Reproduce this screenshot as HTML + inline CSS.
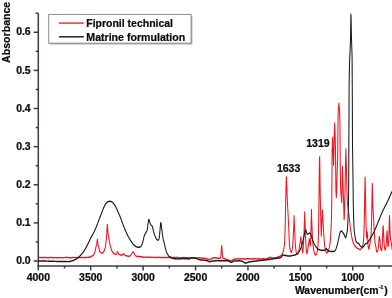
<!DOCTYPE html>
<html lang="en"><head><meta charset="utf-8"><title>FTIR spectra</title>
<style>html,body{margin:0;padding:0;background:#fff}body{width:392px;height:298px;overflow:hidden}</style>
</head><body>
<svg width="392" height="298" viewBox="0 0 392 298" style="display:block">
<rect width="392" height="298" fill="#fff"/>
<g stroke="#383c40" stroke-width="1.5" fill="none" stroke-linecap="butt">
<path d="M38.30,13.22 V266.75"/>
<path d="M37.55,266.00 H392"/>
<path d="M33.70,261.00 H38.30"/>
<path d="M35.70,241.94 H38.30"/>
<path d="M33.70,222.88 H38.30"/>
<path d="M35.70,203.82 H38.30"/>
<path d="M33.70,184.76 H38.30"/>
<path d="M35.70,165.70 H38.30"/>
<path d="M33.70,146.64 H38.30"/>
<path d="M35.70,127.58 H38.30"/>
<path d="M33.70,108.52 H38.30"/>
<path d="M35.70,89.46 H38.30"/>
<path d="M33.70,70.40 H38.30"/>
<path d="M35.70,51.34 H38.30"/>
<path d="M33.70,32.28 H38.30"/>
<path d="M35.70,13.22 H38.30"/>
<path d="M38.30,266.00 V270.40"/>
<path d="M64.51,266.00 V268.40"/>
<path d="M90.72,266.00 V270.40"/>
<path d="M116.92,266.00 V268.40"/>
<path d="M143.13,266.00 V270.40"/>
<path d="M169.34,266.00 V268.40"/>
<path d="M195.55,266.00 V270.40"/>
<path d="M221.75,266.00 V268.40"/>
<path d="M247.96,266.00 V270.40"/>
<path d="M274.17,266.00 V268.40"/>
<path d="M300.38,266.00 V270.40"/>
<path d="M326.58,266.00 V268.40"/>
<path d="M352.79,266.00 V270.40"/>
<path d="M379.00,266.00 V268.40"/>
</g>
<g transform="scale(0.72,1)" fill="none" stroke-linejoin="round">
<path d="M53.19,257.65 L53.47,257.66 L53.75,257.63 L54.03,257.63 L54.31,257.57 L54.58,257.52 L54.86,257.56 L55.14,257.57 L55.42,257.57 L55.69,257.57 L55.97,257.58 L56.25,257.64 L56.53,257.59 L56.81,257.52 L57.08,257.56 L57.36,257.57 L57.64,257.56 L57.92,257.52 L58.19,257.59 L58.47,257.65 L58.75,257.61 L59.03,257.68 L59.31,257.67 L59.58,257.67 L59.86,257.60 L60.14,257.51 L60.42,257.56 L60.69,257.47 L60.97,257.44 L61.25,257.54 L61.53,257.49 L61.81,257.59 L62.08,257.48 L62.36,257.47 L62.64,257.45 L62.92,257.47 L63.19,257.59 L63.47,257.56 L63.75,257.67 L64.03,257.69 L64.31,257.75 L64.58,257.67 L64.86,257.54 L65.14,257.49 L65.42,257.47 L65.69,257.56 L65.97,257.55 L66.25,257.56 L66.53,257.69 L66.81,257.77 L67.08,257.76 L67.36,257.68 L67.64,257.67 L67.92,257.68 L68.19,257.55 L68.47,257.56 L68.75,257.56 L69.03,257.59 L69.31,257.58 L69.58,257.52 L69.86,257.57 L70.14,257.62 L70.42,257.60 L70.69,257.53 L70.97,257.50 L71.25,257.53 L71.53,257.52 L71.81,257.42 L72.08,257.49 L72.36,257.51 L72.64,257.56 L72.92,257.65 L73.19,257.71 L73.47,257.75 L73.75,257.71 L74.03,257.74 L74.31,257.73 L74.58,257.61 L74.86,257.58 L75.14,257.62 L75.42,257.63 L75.69,257.57 L75.97,257.57 L76.25,257.61 L76.53,257.57 L76.81,257.59 L77.08,257.63 L77.36,257.69 L77.64,257.72 L77.92,257.76 L78.19,257.77 L78.47,257.72 L78.75,257.64 L79.03,257.61 L79.31,257.68 L79.58,257.68 L79.86,257.67 L80.14,257.66 L80.42,257.65 L80.69,257.67 L80.97,257.60 L81.25,257.51 L81.53,257.54 L81.81,257.54 L82.08,257.62 L82.36,257.62 L82.64,257.67 L82.92,257.70 L83.19,257.67 L83.47,257.70 L83.75,257.69 L84.03,257.71 L84.31,257.60 L84.58,257.62 L84.86,257.63 L85.14,257.61 L85.42,257.54 L85.69,257.59 L85.97,257.62 L86.25,257.58 L86.53,257.60 L86.81,257.62 L87.08,257.64 L87.36,257.61 L87.64,257.64 L87.92,257.69 L88.19,257.70 L88.47,257.70 L88.75,257.68 L89.03,257.64 L89.31,257.60 L89.58,257.60 L89.86,257.52 L90.14,257.45 L90.42,257.47 L90.69,257.44 L90.97,257.38 L91.25,257.39 L91.53,257.40 L91.81,257.49 L92.08,257.47 L92.36,257.47 L92.64,257.50 L92.92,257.47 L93.19,257.48 L93.47,257.43 L93.75,257.44 L94.03,257.43 L94.31,257.47 L94.58,257.43 L94.86,257.43 L95.14,257.49 L95.42,257.54 L95.69,257.66 L95.97,257.60 L96.25,257.69 L96.53,257.74 L96.81,257.75 L97.08,257.68 L97.36,257.63 L97.64,257.76 L97.92,257.67 L98.19,257.65 L98.47,257.65 L98.75,257.66 L99.03,257.67 L99.31,257.56 L99.58,257.59 L99.86,257.54 L100.14,257.50 L100.42,257.53 L100.69,257.54 L100.97,257.54 L101.25,257.57 L101.53,257.63 L101.81,257.65 L102.08,257.60 L102.36,257.59 L102.64,257.61 L102.92,257.63 L103.19,257.60 L103.47,257.63 L103.75,257.68 L104.03,257.59 L104.31,257.56 L104.58,257.57 L104.86,257.55 L105.14,257.55 L105.42,257.55 L105.69,257.59 L105.97,257.68 L106.25,257.62 L106.53,257.56 L106.81,257.59 L107.08,257.51 L107.36,257.56 L107.64,257.56 L107.92,257.59 L108.19,257.61 L108.47,257.57 L108.75,257.59 L109.03,257.51 L109.31,257.47 L109.58,257.49 L109.86,257.56 L110.14,257.55 L110.42,257.59 L110.69,257.63 L110.97,257.61 L111.25,257.56 L111.53,257.57 L111.81,257.52 L112.08,257.55 L112.36,257.53 L112.64,257.55 L112.92,257.55 L113.19,257.52 L113.47,257.55 L113.75,257.53 L114.03,257.61 L114.31,257.62 L114.58,257.61 L114.86,257.57 L115.14,257.54 L115.42,257.56 L115.69,257.46 L115.97,257.46 L116.25,257.49 L116.53,257.52 L116.81,257.50 L117.08,257.50 L117.36,257.53 L117.64,257.54 L117.92,257.55 L118.19,257.59 L118.47,257.59 L118.75,257.53 L119.03,257.54 L119.31,257.51 L119.58,257.39 L119.86,257.39 L120.14,257.40 L120.42,257.44 L120.69,257.38 L120.97,257.43 L121.25,257.47 L121.53,257.42 L121.81,257.36 L122.08,257.32 L122.36,257.34 L122.64,257.25 L122.92,257.26 L123.19,257.23 L123.47,257.29 L123.75,257.25 L124.03,257.19 L124.31,257.16 L124.58,257.13 L124.86,257.15 L125.14,257.06 L125.42,257.03 L125.69,257.00 L125.97,256.87 L126.25,256.74 L126.53,256.61 L126.81,256.48 L127.08,256.35 L127.36,256.23 L127.64,256.10 L127.92,255.97 L128.19,255.84 L128.47,255.71 L128.75,255.58 L129.03,255.45 L129.31,255.32 L129.58,255.19 L129.86,255.06 L130.14,254.76 L130.42,254.28 L130.69,253.80 L130.97,253.32 L131.25,252.84 L131.53,252.36 L131.81,251.88 L132.08,251.40 L132.36,250.38 L132.64,249.36 L132.92,248.34 L133.19,247.32 L133.47,246.30 L133.75,245.79 L134.03,245.05 L134.31,244.00 L134.58,242.55 L134.86,240.84 L135.14,239.50 L135.42,239.58 L135.69,241.31 L135.97,243.26 L136.25,244.71 L136.53,245.67 L136.81,246.30 L137.08,247.15 L137.36,248.00 L137.64,248.85 L137.92,249.70 L138.19,250.55 L138.47,251.40 L138.75,251.60 L139.03,251.80 L139.31,252.00 L139.58,252.20 L139.86,252.40 L140.14,252.60 L140.42,252.80 L140.69,252.90 L140.97,252.93 L141.25,252.99 L141.53,253.04 L141.81,253.08 L142.08,253.10 L142.36,253.04 L142.64,252.88 L142.92,252.65 L143.19,252.38 L143.47,252.12 L143.75,251.92 L144.03,251.81 L144.31,251.49 L144.58,250.88 L144.86,250.27 L145.14,249.65 L145.42,249.04 L145.69,248.43 L145.97,247.81 L146.25,247.20 L146.53,245.67 L146.81,244.13 L147.08,242.60 L147.36,241.07 L147.64,239.66 L147.92,237.91 L148.19,235.23 L148.47,231.33 L148.75,226.81 L149.03,224.50 L149.31,225.68 L149.58,228.35 L149.86,231.12 L150.14,233.35 L150.42,234.99 L150.69,236.16 L150.97,237.00 L151.25,238.20 L151.53,239.40 L151.81,240.60 L152.08,241.80 L152.36,243.00 L152.64,244.20 L152.92,244.96 L153.19,245.73 L153.47,246.49 L153.75,247.25 L154.03,248.01 L154.31,248.78 L154.58,249.54 L154.86,250.30 L155.14,250.60 L155.42,250.90 L155.69,251.20 L155.97,251.50 L156.25,251.80 L156.53,252.10 L156.81,252.40 L157.08,252.70 L157.36,253.00 L157.64,253.30 L157.92,253.32 L158.19,253.40 L158.47,253.51 L158.75,253.65 L159.03,253.81 L159.31,253.97 L159.58,254.13 L159.86,254.25 L160.14,254.35 L160.42,254.39 L160.69,254.39 L160.97,254.32 L161.25,254.22 L161.53,254.06 L161.81,253.83 L162.08,253.51 L162.36,253.08 L162.64,252.57 L162.92,252.07 L163.19,251.75 L163.47,251.76 L163.75,252.19 L164.03,252.80 L164.31,253.36 L164.58,253.77 L164.86,254.06 L165.14,254.24 L165.42,254.35 L165.69,254.40 L165.97,254.42 L166.25,254.48 L166.53,254.58 L166.81,254.70 L167.08,254.83 L167.36,254.96 L167.64,255.07 L167.92,255.15 L168.19,255.19 L168.47,255.19 L168.75,255.17 L169.03,255.13 L169.31,255.08 L169.58,255.00 L169.86,254.90 L170.14,254.77 L170.42,254.61 L170.69,254.41 L170.97,254.17 L171.25,253.94 L171.53,253.73 L171.81,253.62 L172.08,253.63 L172.36,253.87 L172.64,254.24 L172.92,254.62 L173.19,254.94 L173.47,255.18 L173.75,255.35 L174.03,255.47 L174.31,255.54 L174.58,255.59 L174.86,255.60 L175.14,255.62 L175.42,255.66 L175.69,255.71 L175.97,255.78 L176.25,255.85 L176.53,255.93 L176.81,256.01 L177.08,256.09 L177.36,256.16 L177.64,256.22 L177.92,256.26 L178.19,256.29 L178.47,256.30 L178.75,256.28 L179.03,256.25 L179.31,256.20 L179.58,256.15 L179.86,256.08 L180.14,255.99 L180.42,255.89 L180.69,255.77 L180.97,255.63 L181.25,255.46 L181.53,255.26 L181.81,255.04 L182.08,254.78 L182.36,254.50 L182.64,254.18 L182.92,253.84 L183.19,253.48 L183.47,253.11 L183.75,252.76 L184.03,252.46 L184.31,252.21 L184.58,252.05 L184.86,252.00 L185.14,252.06 L185.42,252.24 L185.69,252.52 L185.97,252.86 L186.25,253.25 L186.53,253.65 L186.81,254.04 L187.08,254.41 L187.36,254.74 L187.64,255.04 L187.92,255.30 L188.19,255.53 L188.47,255.73 L188.75,255.89 L189.03,256.03 L189.31,256.15 L189.58,256.25 L189.86,256.33 L190.14,256.39 L190.42,256.50 L190.69,256.51 L190.97,256.44 L191.25,256.47 L191.53,256.59 L191.81,256.50 L192.08,256.48 L192.36,256.49 L192.64,256.51 L192.92,256.54 L193.19,256.45 L193.47,256.55 L193.75,256.60 L194.03,256.64 L194.31,256.67 L194.58,256.61 L194.86,256.64 L195.14,256.58 L195.42,256.62 L195.69,256.64 L195.97,256.66 L196.25,256.71 L196.53,256.74 L196.81,256.83 L197.08,256.75 L197.36,256.85 L197.64,256.89 L197.92,256.93 L198.19,257.01 L198.47,257.10 L198.75,257.21 L199.03,257.15 L199.31,257.21 L199.58,257.26 L199.86,257.28 L200.14,257.25 L200.42,257.18 L200.69,257.16 L200.97,257.16 L201.25,257.11 L201.53,257.14 L201.81,257.14 L202.08,257.14 L202.36,257.17 L202.64,257.15 L202.92,257.19 L203.19,257.18 L203.47,257.13 L203.75,257.10 L204.03,257.13 L204.31,257.14 L204.58,257.15 L204.86,257.14 L205.14,257.19 L205.42,257.29 L205.69,257.24 L205.97,257.25 L206.25,257.22 L206.53,257.16 L206.81,257.20 L207.08,257.19 L207.36,257.15 L207.64,257.11 L207.92,257.16 L208.19,257.24 L208.47,257.20 L208.75,257.17 L209.03,257.19 L209.31,257.33 L209.58,257.34 L209.86,257.33 L210.14,257.38 L210.42,257.43 L210.69,257.50 L210.97,257.40 L211.25,257.41 L211.53,257.39 L211.81,257.41 L212.08,257.35 L212.36,257.31 L212.64,257.35 L212.92,257.37 L213.19,257.38 L213.47,257.31 L213.75,257.33 L214.03,257.34 L214.31,257.38 L214.58,257.37 L214.86,257.42 L215.14,257.46 L215.42,257.44 L215.69,257.51 L215.97,257.50 L216.25,257.49 L216.53,257.45 L216.81,257.48 L217.08,257.49 L217.36,257.47 L217.64,257.39 L217.92,257.33 L218.19,257.36 L218.47,257.33 L218.75,257.42 L219.03,257.38 L219.31,257.41 L219.58,257.41 L219.86,257.32 L220.14,257.25 L220.42,257.20 L220.69,257.17 L220.97,257.21 L221.25,257.31 L221.53,257.37 L221.81,257.49 L222.08,257.49 L222.36,257.57 L222.64,257.53 L222.92,257.51 L223.19,257.49 L223.47,257.46 L223.75,257.43 L224.03,257.39 L224.31,257.42 L224.58,257.40 L224.86,257.43 L225.14,257.44 L225.42,257.49 L225.69,257.44 L225.97,257.44 L226.25,257.46 L226.53,257.44 L226.81,257.43 L227.08,257.35 L227.36,257.46 L227.64,257.43 L227.92,257.41 L228.19,257.48 L228.47,257.47 L228.75,257.54 L229.03,257.45 L229.31,257.44 L229.58,257.39 L229.86,257.34 L230.14,257.39 L230.42,257.38 L230.69,257.45 L230.97,257.44 L231.25,257.46 L231.53,257.45 L231.81,257.44 L232.08,257.44 L232.36,257.41 L232.64,257.48 L232.92,257.51 L233.19,257.52 L233.47,257.55 L233.75,257.52 L234.03,257.53 L234.31,257.57 L234.58,257.58 L234.86,257.61 L235.14,257.54 L235.42,257.64 L235.69,257.55 L235.97,257.45 L236.25,257.41 L236.53,257.45 L236.81,257.49 L237.08,257.41 L237.36,257.45 L237.64,257.51 L237.92,257.55 L238.19,257.47 L238.47,257.41 L238.75,257.38 L239.03,257.44 L239.31,257.44 L239.58,257.44 L239.86,257.46 L240.14,257.45 L240.42,257.50 L240.69,257.46 L240.97,257.45 L241.25,257.47 L241.53,257.45 L241.81,257.48 L242.08,257.52 L242.36,257.57 L242.64,257.55 L242.92,257.43 L243.19,257.45 L243.47,257.52 L243.75,257.52 L244.03,257.49 L244.31,257.49 L244.58,257.59 L244.86,257.62 L245.14,257.56 L245.42,257.52 L245.69,257.51 L245.97,257.55 L246.25,257.51 L246.53,257.50 L246.81,257.53 L247.08,257.52 L247.36,257.58 L247.64,257.62 L247.92,257.61 L248.19,257.64 L248.47,257.68 L248.75,257.68 L249.03,257.72 L249.31,257.69 L249.58,257.80 L249.86,257.74 L250.14,257.69 L250.42,257.75 L250.69,257.78 L250.97,257.80 L251.25,257.79 L251.53,257.80 L251.81,257.78 L252.08,257.73 L252.36,257.71 L252.64,257.62 L252.92,257.58 L253.19,257.53 L253.47,257.58 L253.75,257.62 L254.03,257.53 L254.31,257.58 L254.58,257.65 L254.86,257.72 L255.14,257.68 L255.42,257.60 L255.69,257.57 L255.97,257.62 L256.25,257.55 L256.53,257.59 L256.81,257.67 L257.08,257.70 L257.36,257.76 L257.64,257.76 L257.92,257.80 L258.19,257.77 L258.47,257.68 L258.75,257.74 L259.03,257.73 L259.31,257.62 L259.58,257.60 L259.86,257.61 L260.14,257.75 L260.42,257.70 L260.69,257.69 L260.97,257.85 L261.25,257.89 L261.53,257.86 L261.81,257.75 L262.08,257.73 L262.36,257.84 L262.64,257.75 L262.92,257.73 L263.19,257.72 L263.47,257.82 L263.75,257.84 L264.03,257.81 L264.31,257.83 L264.58,257.86 L264.86,257.85 L265.14,257.82 L265.42,257.90 L265.69,257.88 L265.97,257.84 L266.25,257.78 L266.53,257.83 L266.81,257.79 L267.08,257.73 L267.36,257.74 L267.64,257.72 L267.92,257.80 L268.19,257.80 L268.47,257.81 L268.75,257.82 L269.03,257.86 L269.31,257.92 L269.58,257.86 L269.86,257.90 L270.14,257.89 L270.42,257.85 L270.69,257.76 L270.97,257.76 L271.25,257.76 L271.53,257.70 L271.81,257.73 L272.08,257.76 L272.36,257.86 L272.64,257.87 L272.92,257.90 L273.19,257.91 L273.47,257.87 L273.75,257.90 L274.03,257.86 L274.31,257.84 L274.58,257.89 L274.86,257.90 L275.14,257.91 L275.42,257.83 L275.69,257.85 L275.97,257.87 L276.25,257.85 L276.53,257.83 L276.81,257.82 L277.08,257.87 L277.36,257.86 L277.64,257.85 L277.92,257.86 L278.19,257.88 L278.47,257.94 L278.75,257.98 L279.03,257.97 L279.31,258.03 L279.58,258.08 L279.86,258.15 L280.14,258.16 L280.42,258.17 L280.69,258.17 L280.97,258.20 L281.25,258.11 L281.53,258.09 L281.81,258.11 L282.08,258.17 L282.36,258.23 L282.64,258.19 L282.92,258.24 L283.19,258.25 L283.47,258.29 L283.75,258.28 L284.03,258.30 L284.31,258.33 L284.58,258.40 L284.86,258.49 L285.14,258.47 L285.42,258.49 L285.69,258.58 L285.97,258.65 L286.25,258.66 L286.53,258.70 L286.81,258.77 L287.08,258.83 L287.36,258.88 L287.64,258.98 L287.92,258.99 L288.19,259.05 L288.47,259.21 L288.75,259.24 L289.03,259.25 L289.31,259.29 L289.58,259.39 L289.86,259.44 L290.14,259.42 L290.42,259.42 L290.69,259.48 L290.97,259.48 L291.25,259.58 L291.53,259.55 L291.81,259.48 L292.08,259.44 L292.36,259.35 L292.64,259.27 L292.92,259.17 L293.19,258.95 L293.47,258.78 L293.75,258.63 L294.03,258.54 L294.31,258.43 L294.58,258.28 L294.86,258.22 L295.14,258.16 L295.42,258.13 L295.69,258.02 L295.97,257.92 L296.25,257.92 L296.53,257.88 L296.81,257.80 L297.08,257.73 L297.36,257.71 L297.64,257.67 L297.92,257.67 L298.19,257.71 L298.47,257.83 L298.75,257.84 L299.03,257.81 L299.31,257.76 L299.58,257.80 L299.86,257.79 L300.14,257.74 L300.42,257.79 L300.69,257.88 L300.97,257.97 L301.25,257.97 L301.53,258.06 L301.81,258.08 L302.08,258.10 L302.36,258.20 L302.64,258.22 L302.92,258.26 L303.19,258.22 L303.47,258.28 L303.75,258.36 L304.03,258.28 L304.31,258.30 L304.58,258.29 L304.86,258.24 L305.14,258.24 L305.42,258.26 L305.69,258.26 L305.97,258.13 L306.25,257.71 L306.53,256.90 L306.81,255.47 L307.08,253.18 L307.36,250.14 L307.64,247.13 L307.92,245.73 L308.19,247.16 L308.47,250.30 L308.75,253.43 L309.03,255.66 L309.31,257.07 L309.58,257.91 L309.86,258.32 L310.14,258.35 L310.42,258.35 L310.69,258.41 L310.97,258.50 L311.25,258.60 L311.53,258.70 L311.81,258.73 L312.08,258.82 L312.36,258.88 L312.64,258.87 L312.92,258.90 L313.19,258.94 L313.47,259.03 L313.75,259.07 L314.03,259.14 L314.31,259.27 L314.58,259.40 L314.86,259.53 L315.14,259.61 L315.42,259.65 L315.69,259.67 L315.97,259.63 L316.25,259.65 L316.53,259.75 L316.81,259.78 L317.08,259.81 L317.36,259.93 L317.64,260.07 L317.92,260.13 L318.19,260.19 L318.47,260.31 L318.75,260.44 L319.03,260.45 L319.31,260.54 L319.58,260.65 L319.86,260.69 L320.14,260.79 L320.42,260.87 L320.69,260.98 L320.97,261.06 L321.25,260.89 L321.53,260.77 L321.81,260.65 L322.08,260.48 L322.36,260.33 L322.64,260.20 L322.92,260.08 L323.19,259.96 L323.47,259.83 L323.75,259.70 L324.03,259.62 L324.31,259.55 L324.58,259.52 L324.86,259.44 L325.14,259.31 L325.42,259.22 L325.69,259.09 L325.97,258.97 L326.25,259.01 L326.53,259.03 L326.81,259.09 L327.08,259.15 L327.36,259.11 L327.64,259.08 L327.92,258.98 L328.19,258.97 L328.47,258.97 L328.75,258.90 L329.03,258.96 L329.31,258.99 L329.58,258.99 L329.86,258.92 L330.14,258.83 L330.42,258.89 L330.69,258.85 L330.97,258.87 L331.25,258.90 L331.53,258.95 L331.81,259.03 L332.08,258.97 L332.36,258.97 L332.64,258.95 L332.92,258.91 L333.19,258.85 L333.47,258.79 L333.75,258.82 L334.03,258.81 L334.31,258.78 L334.58,258.84 L334.86,258.91 L335.14,258.84 L335.42,258.89 L335.69,258.96 L335.97,258.94 L336.25,258.86 L336.53,258.83 L336.81,258.89 L337.08,258.84 L337.36,258.84 L337.64,258.87 L337.92,258.93 L338.19,258.93 L338.47,258.98 L338.75,259.04 L339.03,259.07 L339.31,259.09 L339.58,259.08 L339.86,259.15 L340.14,259.14 L340.42,259.09 L340.69,258.99 L340.97,259.01 L341.25,258.99 L341.53,258.88 L341.81,258.81 L342.08,258.78 L342.36,258.82 L342.64,258.73 L342.92,258.73 L343.19,258.74 L343.47,258.75 L343.75,258.72 L344.03,258.69 L344.31,258.69 L344.58,258.75 L344.86,258.71 L345.14,258.79 L345.42,258.87 L345.69,258.85 L345.97,258.91 L346.25,258.87 L346.53,258.86 L346.81,258.82 L347.08,258.78 L347.36,258.85 L347.64,258.88 L347.92,258.86 L348.19,258.89 L348.47,258.92 L348.75,258.97 L349.03,258.86 L349.31,258.86 L349.58,258.90 L349.86,258.97 L350.14,258.93 L350.42,258.86 L350.69,258.95 L350.97,258.95 L351.25,258.96 L351.53,258.81 L351.81,258.85 L352.08,258.83 L352.36,258.79 L352.64,258.70 L352.92,258.63 L353.19,258.67 L353.47,258.61 L353.75,258.65 L354.03,258.68 L354.31,258.71 L354.58,258.72 L354.86,258.76 L355.14,258.83 L355.42,258.89 L355.69,258.89 L355.97,258.93 L356.25,259.01 L356.53,259.07 L356.81,259.09 L357.08,259.04 L357.36,259.02 L357.64,259.05 L357.92,259.08 L358.19,259.08 L358.47,258.93 L358.75,258.93 L359.03,258.82 L359.31,258.79 L359.58,258.74 L359.86,258.68 L360.14,258.76 L360.42,258.81 L360.69,258.92 L360.97,258.93 L361.25,258.95 L361.53,258.96 L361.81,258.98 L362.08,258.93 L362.36,258.90 L362.64,258.89 L362.92,258.89 L363.19,258.87 L363.47,258.88 L363.75,258.90 L364.03,258.90 L364.31,258.86 L364.58,258.82 L364.86,258.79 L365.14,258.77 L365.42,258.71 L365.69,258.73 L365.97,258.75 L366.25,258.77 L366.53,258.82 L366.81,258.89 L367.08,258.90 L367.36,258.92 L367.64,258.86 L367.92,258.87 L368.19,258.90 L368.47,258.86 L368.75,258.85 L369.03,258.83 L369.31,258.92 L369.58,258.87 L369.86,258.82 L370.14,258.69 L370.42,258.71 L370.69,258.71 L370.97,258.64 L371.25,258.56 L371.53,258.47 L371.81,258.47 L372.08,258.38 L372.36,258.29 L372.64,258.22 L372.92,258.20 L373.19,258.16 L373.47,257.97 L373.75,257.80 L374.03,257.65 L374.31,257.52 L374.58,257.35 L374.86,257.21 L375.14,257.18 L375.42,257.21 L375.69,257.33 L375.97,257.45 L376.25,257.61 L376.53,257.69 L376.81,257.75 L377.08,257.87 L377.36,257.93 L377.64,258.06 L377.92,257.98 L378.19,257.93 L378.47,257.89 L378.75,257.88 L379.03,257.86 L379.31,257.86 L379.58,257.90 L379.86,257.98 L380.14,258.02 L380.42,257.98 L380.69,258.03 L380.97,258.03 L381.25,258.10 L381.53,257.92 L381.81,257.93 L382.08,257.92 L382.36,257.83 L382.64,257.76 L382.92,257.67 L383.19,257.74 L383.47,257.68 L383.75,257.63 L384.03,257.70 L384.31,257.55 L384.58,257.51 L384.86,257.40 L385.14,257.30 L385.42,257.31 L385.69,257.20 L385.97,257.11 L386.25,257.02 L386.53,256.92 L386.81,256.85 L387.08,256.70 L387.36,256.61 L387.64,256.57 L387.92,256.46 L388.19,256.42 L388.47,256.38 L388.75,256.26 L389.03,256.14 L389.31,255.99 L389.58,255.90 L389.86,255.78 L390.14,255.56 L390.42,255.44 L390.69,255.23 L390.97,255.05 L391.25,254.76 L391.53,254.41 L391.81,254.17 L392.08,253.83 L392.36,253.50 L392.64,253.17 L392.92,252.61 L393.19,251.83 L393.47,251.05 L393.75,250.26 L394.03,249.48 L394.31,248.70 L394.58,247.07 L394.86,245.44 L395.14,243.81 L395.42,241.00 L395.69,236.33 L395.97,229.67 L396.25,221.50 L396.53,212.00 L396.81,200.00 L397.08,190.40 L397.36,185.32 L397.64,177.36 L397.92,176.91 L398.19,184.49 L398.47,188.00 L398.75,194.00 L399.03,200.00 L399.31,203.75 L399.58,207.50 L399.86,211.25 L400.14,215.00 L400.42,219.00 L400.69,223.00 L400.97,227.00 L401.25,231.75 L401.53,236.75 L401.81,242.56 L402.08,246.12 L402.36,247.16 L402.64,248.20 L402.92,249.24 L403.19,250.28 L403.47,250.86 L403.75,251.29 L404.03,251.91 L404.31,252.34 L404.58,252.34 L404.86,251.87 L405.14,251.17 L405.42,250.55 L405.69,250.30 L405.97,248.50 L406.25,246.70 L406.53,244.90 L406.81,242.45 L407.08,240.00 L407.36,235.56 L407.64,231.11 L407.92,227.84 L408.19,221.88 L408.47,215.70 L408.75,221.20 L409.03,227.14 L409.31,230.00 L409.58,235.71 L409.86,240.70 L410.14,243.50 L410.42,246.08 L410.69,247.98 L410.97,249.89 L411.25,251.80 L411.53,252.16 L411.81,252.96 L412.08,253.61 L412.36,253.71 L412.64,253.78 L412.92,253.90 L413.19,254.02 L413.47,254.09 L413.75,254.01 L414.03,253.39 L414.31,252.51 L414.58,251.89 L414.86,251.22 L415.14,250.07 L415.42,248.92 L415.69,247.77 L415.97,246.60 L416.25,245.40 L416.53,244.20 L416.81,243.00 L417.08,241.92 L417.36,239.85 L417.64,236.93 L417.92,236.93 L418.19,239.85 L418.47,241.92 L418.75,243.00 L419.03,245.17 L419.31,247.33 L419.58,249.50 L419.86,250.08 L420.14,251.39 L420.42,252.45 L420.69,252.16 L420.97,249.30 L421.25,246.44 L421.53,244.00 L421.81,240.00 L422.08,236.00 L422.36,230.00 L422.64,224.00 L422.92,219.50 L423.19,212.00 L423.47,219.50 L423.75,224.00 L424.03,230.00 L424.31,236.00 L424.58,240.20 L424.86,244.40 L425.14,246.78 L425.42,248.75 L425.69,251.55 L425.97,253.52 L426.25,253.71 L426.53,253.02 L426.81,251.90 L427.08,250.78 L427.36,250.09 L427.64,249.25 L427.92,247.75 L428.19,246.25 L428.47,244.75 L428.75,243.65 L429.03,242.48 L429.31,240.40 L429.58,238.80 L429.86,240.42 L430.14,242.16 L430.42,243.00 L430.69,243.68 L430.97,245.03 L431.25,245.70 L431.53,239.77 L431.81,233.67 L432.08,224.33 L432.36,216.94 L432.64,209.49 L432.92,218.79 L433.19,223.43 L433.47,229.14 L433.75,234.40 L434.03,238.64 L434.31,241.18 L434.58,243.73 L434.86,245.77 L435.14,247.30 L435.42,248.83 L435.69,250.04 L435.97,250.93 L436.25,251.82 L436.53,252.71 L436.81,253.60 L437.08,253.74 L437.36,254.12 L437.64,254.58 L437.92,254.96 L438.19,255.10 L438.47,255.01 L438.75,254.78 L439.03,254.47 L439.31,254.19 L439.58,254.02 L439.86,253.60 L440.14,252.80 L440.42,252.00 L440.69,251.20 L440.97,250.40 L441.25,249.60 L441.53,246.56 L441.81,243.52 L442.08,239.20 L442.36,232.00 L442.64,220.00 L442.92,205.00 L443.19,190.00 L443.47,170.00 L443.75,157.02 L444.03,157.02 L444.31,170.00 L444.58,186.00 L444.86,197.50 L445.14,207.14 L445.42,215.71 L445.69,223.33 L445.97,230.00 L446.25,236.20 L446.53,230.73 L446.81,225.25 L447.08,219.75 L447.36,216.12 L447.64,212.32 L447.92,209.96 L448.19,215.19 L448.47,218.10 L448.75,222.50 L449.03,226.90 L449.31,230.31 L449.58,233.38 L449.86,236.46 L450.14,239.10 L450.42,241.30 L450.69,243.50 L450.97,245.70 L451.25,246.73 L451.53,247.77 L451.81,248.80 L452.08,249.83 L452.36,250.87 L452.64,251.90 L452.92,252.06 L453.19,252.45 L453.47,252.84 L453.75,253.00 L454.03,252.94 L454.31,252.75 L454.58,252.48 L454.86,252.17 L455.14,251.87 L455.42,251.64 L455.69,251.52 L455.97,251.15 L456.25,250.45 L456.53,249.75 L456.81,249.05 L457.08,248.35 L457.36,247.65 L457.64,246.62 L457.92,245.27 L458.19,243.92 L458.47,242.57 L458.75,240.67 L459.03,238.22 L459.31,235.25 L459.58,231.75 L459.86,227.33 L460.14,222.00 L460.42,216.67 L460.69,204.80 L460.97,185.67 L461.25,149.57 L461.53,146.86 L461.81,141.66 L462.08,137.30 L462.36,144.96 L462.64,151.41 L462.92,157.05 L463.19,165.15 L463.47,164.40 L463.75,154.80 L464.03,144.00 L464.31,134.39 L464.58,129.58 L464.86,122.90 L465.14,129.58 L465.42,134.39 L465.69,141.43 L465.97,150.00 L466.25,170.00 L466.53,191.00 L466.81,194.25 L467.08,197.50 L467.36,194.25 L467.64,191.00 L467.92,182.33 L468.19,174.86 L468.47,168.57 L468.75,161.86 L469.03,155.00 L469.31,131.00 L469.58,116.00 L469.86,109.77 L470.14,108.32 L470.42,105.53 L470.69,103.20 L470.97,105.53 L471.25,108.32 L471.53,109.77 L471.81,114.50 L472.08,120.50 L472.36,145.00 L472.64,168.00 L472.92,181.33 L473.19,189.33 L473.47,191.98 L473.75,194.64 L474.03,197.29 L474.31,199.95 L474.58,202.60 L474.86,194.26 L475.14,184.00 L475.42,173.22 L475.69,166.59 L475.97,175.97 L476.25,180.89 L476.53,186.67 L476.81,192.60 L477.08,199.00 L477.36,205.40 L477.64,212.30 L477.92,219.37 L478.19,218.92 L478.47,210.97 L478.75,203.12 L479.03,195.62 L479.31,187.60 L479.58,178.00 L479.86,163.00 L480.14,155.94 L480.42,148.88 L480.69,158.36 L480.97,163.00 L481.25,171.50 L481.53,180.00 L481.81,189.60 L482.08,195.67 L482.36,200.56 L482.64,203.75 L482.92,205.25 L483.19,206.75 L483.47,208.25 L483.75,209.85 L484.03,211.54 L484.31,213.23 L484.58,214.92 L484.86,216.62 L485.14,218.31 L485.42,220.00 L485.69,221.82 L485.97,223.64 L486.25,225.45 L486.53,227.27 L486.81,229.09 L487.08,230.60 L487.36,231.80 L487.64,233.00 L487.92,234.20 L488.19,235.40 L488.47,236.50 L488.75,237.50 L489.03,238.50 L489.31,239.50 L489.58,240.50 L489.86,241.25 L490.14,241.76 L490.42,242.27 L490.69,242.77 L490.97,243.28 L491.25,243.79 L491.53,244.29 L491.81,244.80 L492.08,245.07 L492.36,245.33 L492.64,245.60 L492.92,245.87 L493.19,246.13 L493.47,246.40 L493.75,246.67 L494.03,246.89 L494.31,247.06 L494.58,247.23 L494.86,247.40 L495.14,247.57 L495.42,247.74 L495.69,247.91 L495.97,248.09 L496.25,248.26 L496.53,248.43 L496.81,248.60 L497.08,248.62 L497.36,248.66 L497.64,248.74 L497.92,248.83 L498.19,248.95 L498.47,249.07 L498.75,249.19 L499.03,249.31 L499.31,249.42 L499.58,249.50 L499.86,249.56 L500.14,249.60 L500.42,249.59 L500.69,249.51 L500.97,249.35 L501.25,249.14 L501.53,248.88 L501.81,248.62 L502.08,248.36 L502.36,248.15 L502.64,247.99 L502.92,247.91 L503.19,247.48 L503.47,246.65 L503.75,245.81 L504.03,244.97 L504.31,244.14 L504.58,243.30 L504.86,240.07 L505.14,236.84 L505.42,233.61 L505.69,228.00 L505.97,220.00 L506.25,209.60 L506.53,197.00 L506.81,186.90 L507.08,177.10 L507.36,185.82 L507.64,194.00 L507.92,206.00 L508.19,217.00 L508.47,225.00 L508.75,230.32 L509.03,236.68 L509.31,237.78 L509.58,236.27 L509.86,232.57 L510.14,231.95 L510.42,235.04 L510.69,239.24 L510.97,242.90 L511.25,245.53 L511.53,247.24 L511.81,248.29 L512.08,248.87 L512.36,248.91 L512.64,248.27 L512.92,247.15 L513.19,245.85 L513.47,244.73 L513.75,244.09 L514.03,243.33 L514.31,242.00 L514.58,240.67 L514.86,239.33 L515.14,238.00 L515.42,233.67 L515.69,229.33 L515.97,225.00 L516.25,215.00 L516.53,203.00 L516.81,193.52 L517.08,183.60 L517.36,193.52 L517.64,200.00 L517.92,206.87 L518.19,210.34 L518.47,213.81 L518.75,217.28 L519.03,220.75 L519.31,224.22 L519.58,227.69 L519.86,231.16 L520.14,234.63 L520.42,238.10 L520.69,241.57 L520.97,243.35 L521.25,243.77 L521.53,244.57 L521.81,245.68 L522.08,246.97 L522.36,248.33 L522.64,249.62 L522.92,250.73 L523.19,251.53 L523.47,251.95 L523.75,251.94 L524.03,251.69 L524.31,251.30 L524.58,250.73 L524.86,249.95 L525.14,248.89 L525.42,247.49 L525.69,245.72 L525.97,243.57 L526.25,241.19 L526.53,238.88 L526.81,237.15 L527.08,236.50 L527.36,237.41 L527.64,239.68 L527.92,242.40 L528.19,244.89 L528.47,246.85 L528.75,248.28 L529.03,249.29 L529.31,249.96 L529.58,250.39 L529.86,250.60 L530.14,250.07 L530.42,248.95 L530.69,247.03 L530.97,244.00 L531.25,239.54 L531.53,233.78 L531.81,228.23 L532.08,225.80 L532.36,227.22 L532.64,230.83 L532.92,235.27 L533.19,239.44 L533.47,242.85 L533.75,245.41 L534.03,247.24 L534.31,248.52 L534.58,249.37 L534.86,249.88 L535.14,249.89 L535.42,249.42 L535.69,248.61 L535.97,247.36 L536.25,245.52 L536.53,242.92 L536.81,239.52 L537.08,235.66 L537.36,232.35 L537.64,231.00 L537.92,233.97 L538.19,239.28 L538.47,243.16 L538.75,245.29 L539.03,246.30 L539.31,246.19 L539.58,244.72 L539.86,241.85 L540.14,236.83 L540.42,229.10 L540.69,220.19 L540.97,215.80 L541.25,219.33 L541.53,226.26 L541.81,232.24 L542.08,236.34 L542.36,239.02 L542.64,240.07 L542.92,240.60 L543.19,241.61 L543.47,242.99 L543.75,244.59 L544.03,246.23 L544.31,247.73 L544.58,248.95 L544.86,249.73 L545.14,250.00" stroke="#f5121e" stroke-width="1.45"/>
<path d="M53.19,260.90 L53.47,260.90 L53.75,260.91 L54.03,260.91 L54.31,260.92 L54.58,260.92 L54.86,260.93 L55.14,260.93 L55.42,260.94 L55.69,260.94 L55.97,260.95 L56.25,260.95 L56.53,260.96 L56.81,260.96 L57.08,260.97 L57.36,260.97 L57.64,260.98 L57.92,260.98 L58.19,260.99 L58.47,260.99 L58.75,261.00 L59.03,261.00 L59.31,261.01 L59.58,261.01 L59.86,261.02 L60.14,261.02 L60.42,261.03 L60.69,261.03 L60.97,261.04 L61.25,261.04 L61.53,261.05 L61.81,261.05 L62.08,261.06 L62.36,261.06 L62.64,261.07 L62.92,261.07 L63.19,261.08 L63.47,261.08 L63.75,261.09 L64.03,261.09 L64.31,261.10 L64.58,261.10 L64.86,261.11 L65.14,261.12 L65.42,261.12 L65.69,261.13 L65.97,261.13 L66.25,261.14 L66.53,261.14 L66.81,261.15 L67.08,261.15 L67.36,261.16 L67.64,261.16 L67.92,261.17 L68.19,261.18 L68.47,261.18 L68.75,261.19 L69.03,261.19 L69.31,261.20 L69.58,261.20 L69.86,261.21 L70.14,261.21 L70.42,261.22 L70.69,261.23 L70.97,261.23 L71.25,261.24 L71.53,261.24 L71.81,261.25 L72.08,261.26 L72.36,261.26 L72.64,261.27 L72.92,261.28 L73.19,261.28 L73.47,261.29 L73.75,261.30 L74.03,261.30 L74.31,261.31 L74.58,261.32 L74.86,261.33 L75.14,261.33 L75.42,261.34 L75.69,261.35 L75.97,261.35 L76.25,261.36 L76.53,261.37 L76.81,261.37 L77.08,261.38 L77.36,261.39 L77.64,261.39 L77.92,261.40 L78.19,261.41 L78.47,261.41 L78.75,261.42 L79.03,261.42 L79.31,261.43 L79.58,261.44 L79.86,261.44 L80.14,261.45 L80.42,261.45 L80.69,261.46 L80.97,261.46 L81.25,261.47 L81.53,261.47 L81.81,261.48 L82.08,261.48 L82.36,261.49 L82.64,261.49 L82.92,261.49 L83.19,261.50 L83.47,261.50 L83.75,261.51 L84.03,261.51 L84.31,261.51 L84.58,261.52 L84.86,261.52 L85.14,261.52 L85.42,261.53 L85.69,261.53 L85.97,261.53 L86.25,261.54 L86.53,261.54 L86.81,261.54 L87.08,261.55 L87.36,261.55 L87.64,261.55 L87.92,261.56 L88.19,261.56 L88.47,261.56 L88.75,261.57 L89.03,261.57 L89.31,261.57 L89.58,261.57 L89.86,261.58 L90.14,261.58 L90.42,261.58 L90.69,261.58 L90.97,261.59 L91.25,261.59 L91.53,261.59 L91.81,261.59 L92.08,261.59 L92.36,261.59 L92.64,261.60 L92.92,261.60 L93.19,261.60 L93.47,261.60 L93.75,261.60 L94.03,261.60 L94.31,261.60 L94.58,261.60 L94.86,261.60 L95.14,261.59 L95.42,261.57 L95.69,261.55 L95.97,261.53 L96.25,261.50 L96.53,261.47 L96.81,261.43 L97.08,261.39 L97.36,261.35 L97.64,261.30 L97.92,261.25 L98.19,261.20 L98.47,261.15 L98.75,261.10 L99.03,261.05 L99.31,260.99 L99.58,260.94 L99.86,260.88 L100.14,260.83 L100.42,260.77 L100.69,260.72 L100.97,260.65 L101.25,260.59 L101.53,260.52 L101.81,260.44 L102.08,260.37 L102.36,260.29 L102.64,260.21 L102.92,260.12 L103.19,260.03 L103.47,259.94 L103.75,259.84 L104.03,259.75 L104.31,259.65 L104.58,259.55 L104.86,259.44 L105.14,259.33 L105.42,259.22 L105.69,259.09 L105.97,258.97 L106.25,258.84 L106.53,258.70 L106.81,258.57 L107.08,258.42 L107.36,258.28 L107.64,258.13 L107.92,257.98 L108.19,257.82 L108.47,257.66 L108.75,257.50 L109.03,257.33 L109.31,257.16 L109.58,256.97 L109.86,256.78 L110.14,256.59 L110.42,256.39 L110.69,256.18 L110.97,255.97 L111.25,255.76 L111.53,255.54 L111.81,255.33 L112.08,255.11 L112.36,254.89 L112.64,254.67 L112.92,254.45 L113.19,254.23 L113.47,254.01 L113.75,253.78 L114.03,253.55 L114.31,253.31 L114.58,253.07 L114.86,252.82 L115.14,252.57 L115.42,252.31 L115.69,252.04 L115.97,251.76 L116.25,251.47 L116.53,251.17 L116.81,250.87 L117.08,250.55 L117.36,250.22 L117.64,249.89 L117.92,249.55 L118.19,249.21 L118.47,248.86 L118.75,248.51 L119.03,248.16 L119.31,247.80 L119.58,247.44 L119.86,247.07 L120.14,246.69 L120.42,246.30 L120.69,245.91 L120.97,245.52 L121.25,245.12 L121.53,244.72 L121.81,244.31 L122.08,243.91 L122.36,243.50 L122.64,243.10 L122.92,242.70 L123.19,242.30 L123.47,241.89 L123.75,241.48 L124.03,241.07 L124.31,240.65 L124.58,240.23 L124.86,239.82 L125.14,239.41 L125.42,239.00 L125.69,238.59 L125.97,238.19 L126.25,237.79 L126.53,237.41 L126.81,237.03 L127.08,236.66 L127.36,236.30 L127.64,235.94 L127.92,235.58 L128.19,235.23 L128.47,234.87 L128.75,234.51 L129.03,234.15 L129.31,233.77 L129.58,233.39 L129.86,233.00 L130.14,232.60 L130.42,232.19 L130.69,231.77 L130.97,231.35 L131.25,230.92 L131.53,230.48 L131.81,230.04 L132.08,229.59 L132.36,229.14 L132.64,228.68 L132.92,228.22 L133.19,227.75 L133.47,227.28 L133.75,226.81 L134.03,226.33 L134.31,225.84 L134.58,225.35 L134.86,224.85 L135.14,224.34 L135.42,223.82 L135.69,223.29 L135.97,222.76 L136.25,222.22 L136.53,221.68 L136.81,221.14 L137.08,220.60 L137.36,220.06 L137.64,219.53 L137.92,219.00 L138.19,218.48 L138.47,217.96 L138.75,217.44 L139.03,216.91 L139.31,216.39 L139.58,215.88 L139.86,215.36 L140.14,214.84 L140.42,214.33 L140.69,213.82 L140.97,213.31 L141.25,212.80 L141.53,212.30 L141.81,211.79 L142.08,211.28 L142.36,210.76 L142.64,210.24 L142.92,209.72 L143.19,209.21 L143.47,208.70 L143.75,208.20 L144.03,207.72 L144.31,207.26 L144.58,206.82 L144.86,206.40 L145.14,206.00 L145.42,205.61 L145.69,205.22 L145.97,204.84 L146.25,204.47 L146.53,204.11 L146.81,203.79 L147.08,203.49 L147.36,203.22 L147.64,203.00 L147.92,202.81 L148.19,202.64 L148.47,202.48 L148.75,202.33 L149.03,202.19 L149.31,202.06 L149.58,201.94 L149.86,201.84 L150.14,201.74 L150.42,201.67 L150.69,201.60 L150.97,201.54 L151.25,201.48 L151.53,201.43 L151.81,201.38 L152.08,201.35 L152.36,201.32 L152.64,201.30 L152.92,201.30 L153.19,201.32 L153.47,201.36 L153.75,201.42 L154.03,201.49 L154.31,201.57 L154.58,201.67 L154.86,201.77 L155.14,201.88 L155.42,201.99 L155.69,202.10 L155.97,202.23 L156.25,202.38 L156.53,202.55 L156.81,202.75 L157.08,202.96 L157.36,203.19 L157.64,203.43 L157.92,203.68 L158.19,203.94 L158.47,204.20 L158.75,204.48 L159.03,204.78 L159.31,205.10 L159.58,205.44 L159.86,205.79 L160.14,206.16 L160.42,206.54 L160.69,206.92 L160.97,207.31 L161.25,207.70 L161.53,208.10 L161.81,208.51 L162.08,208.93 L162.36,209.37 L162.64,209.81 L162.92,210.26 L163.19,210.71 L163.47,211.17 L163.75,211.62 L164.03,212.07 L164.31,212.52 L164.58,212.97 L164.86,213.42 L165.14,213.86 L165.42,214.31 L165.69,214.76 L165.97,215.22 L166.25,215.69 L166.53,216.17 L166.81,216.65 L167.08,217.15 L167.36,217.67 L167.64,218.21 L167.92,218.75 L168.19,219.31 L168.47,219.86 L168.75,220.42 L169.03,220.98 L169.31,221.53 L169.58,222.07 L169.86,222.61 L170.14,223.16 L170.42,223.70 L170.69,224.24 L170.97,224.78 L171.25,225.31 L171.53,225.83 L171.81,226.35 L172.08,226.85 L172.36,227.35 L172.64,227.84 L172.92,228.32 L173.19,228.81 L173.47,229.28 L173.75,229.76 L174.03,230.22 L174.31,230.68 L174.58,231.14 L174.86,231.59 L175.14,232.04 L175.42,232.48 L175.69,232.92 L175.97,233.35 L176.25,233.79 L176.53,234.22 L176.81,234.64 L177.08,235.06 L177.36,235.48 L177.64,235.89 L177.92,236.29 L178.19,236.68 L178.47,237.06 L178.75,237.44 L179.03,237.80 L179.31,238.15 L179.58,238.50 L179.86,238.84 L180.14,239.17 L180.42,239.50 L180.69,239.82 L180.97,240.13 L181.25,240.44 L181.53,240.75 L181.81,241.04 L182.08,241.33 L182.36,241.62 L182.64,241.90 L182.92,242.18 L183.19,242.46 L183.47,242.73 L183.75,243.01 L184.03,243.28 L184.31,243.54 L184.58,243.80 L184.86,244.04 L185.14,244.28 L185.42,244.50 L185.69,244.71 L185.97,244.91 L186.25,245.09 L186.53,245.26 L186.81,245.44 L187.08,245.60 L187.36,245.77 L187.64,245.92 L187.92,246.07 L188.19,246.21 L188.47,246.35 L188.75,246.47 L189.03,246.58 L189.31,246.68 L189.58,246.76 L189.86,246.84 L190.14,246.91 L190.42,246.98 L190.69,247.05 L190.97,247.11 L191.25,247.17 L191.53,247.22 L191.81,247.26 L192.08,247.28 L192.36,247.30 L192.64,247.30 L192.92,247.28 L193.19,247.24 L193.47,247.19 L193.75,247.13 L194.03,247.05 L194.31,246.96 L194.58,246.86 L194.86,246.75 L195.14,246.63 L195.42,246.50 L195.69,246.33 L195.97,246.09 L196.25,245.79 L196.53,245.43 L196.81,245.03 L197.08,244.59 L197.36,244.14 L197.64,243.64 L197.92,243.04 L198.19,242.34 L198.47,241.58 L198.75,240.79 L199.03,239.99 L199.31,239.05 L199.58,238.07 L199.86,237.12 L200.14,236.32 L200.42,235.73 L200.69,235.24 L200.97,234.82 L201.25,234.44 L201.53,234.08 L201.81,233.74 L202.08,233.39 L202.36,233.01 L202.64,232.59 L202.92,232.22 L203.19,231.86 L203.47,231.49 L203.75,231.09 L204.03,230.63 L204.31,230.07 L204.58,229.40 L204.86,228.26 L205.14,226.57 L205.42,224.76 L205.69,223.20 L205.97,221.77 L206.25,220.36 L206.53,219.44 L206.81,219.36 L207.08,219.77 L207.36,220.46 L207.64,221.27 L207.92,222.07 L208.19,222.70 L208.47,223.19 L208.75,223.65 L209.03,224.08 L209.31,224.46 L209.58,224.80 L209.86,225.08 L210.14,225.30 L210.42,225.49 L210.69,225.67 L210.97,225.87 L211.25,226.11 L211.53,226.42 L211.81,226.84 L212.08,227.58 L212.36,228.53 L212.64,229.55 L212.92,230.50 L213.19,231.27 L213.47,232.00 L213.75,232.71 L214.03,233.39 L214.31,234.05 L214.58,234.67 L214.86,235.24 L215.14,235.76 L215.42,236.23 L215.69,236.70 L215.97,237.16 L216.25,237.61 L216.53,238.03 L216.81,238.42 L217.08,238.78 L217.36,239.08 L217.64,239.34 L217.92,239.53 L218.19,239.66 L218.47,239.78 L218.75,239.88 L219.03,239.97 L219.31,240.04 L219.58,240.08 L219.86,240.10 L220.14,239.97 L220.42,239.59 L220.69,239.03 L220.97,238.31 L221.25,237.50 L221.53,236.12 L221.81,233.97 L222.08,231.54 L222.36,229.30 L222.64,226.93 L222.92,224.44 L223.19,222.75 L223.47,222.63 L223.75,223.53 L224.03,225.03 L224.31,226.81 L224.58,228.55 L224.86,230.01 L225.14,231.50 L225.42,233.04 L225.69,234.57 L225.97,236.03 L226.25,237.36 L226.53,238.50 L226.81,239.45 L227.08,240.27 L227.36,241.03 L227.64,241.79 L227.92,242.60 L228.19,243.48 L228.47,244.40 L228.75,245.32 L229.03,246.19 L229.31,247.00 L229.58,247.80 L229.86,248.56 L230.14,249.33 L230.42,250.10 L230.69,250.80 L230.97,251.41 L231.25,251.97 L231.53,252.44 L231.81,252.91 L232.08,253.25 L232.36,253.58 L232.64,253.98 L232.92,254.31 L233.19,254.72 L233.47,255.04 L233.75,255.44 L234.03,255.77 L234.31,256.03 L234.58,256.24 L234.86,256.43 L235.14,256.58 L235.42,256.70 L235.69,256.79 L235.97,256.95 L236.25,257.03 L236.53,257.13 L236.81,257.24 L237.08,257.39 L237.36,257.54 L237.64,257.64 L237.92,257.87 L238.19,257.94 L238.47,258.06 L238.75,258.05 L239.03,258.13 L239.31,258.20 L239.58,258.23 L239.86,258.28 L240.14,258.33 L240.42,258.44 L240.69,258.47 L240.97,258.51 L241.25,258.53 L241.53,258.61 L241.81,258.61 L242.08,258.59 L242.36,258.70 L242.64,258.79 L242.92,258.76 L243.19,258.79 L243.47,258.86 L243.75,258.94 L244.03,258.89 L244.31,258.83 L244.58,258.88 L244.86,258.86 L245.14,258.86 L245.42,258.84 L245.69,258.84 L245.97,258.90 L246.25,258.94 L246.53,258.92 L246.81,258.90 L247.08,258.88 L247.36,258.92 L247.64,258.88 L247.92,258.88 L248.19,258.90 L248.47,258.90 L248.75,258.88 L249.03,258.87 L249.31,258.85 L249.58,258.75 L249.86,258.73 L250.14,258.65 L250.42,258.68 L250.69,258.63 L250.97,258.64 L251.25,258.72 L251.53,258.71 L251.81,258.79 L252.08,258.79 L252.36,258.77 L252.64,258.69 L252.92,258.66 L253.19,258.64 L253.47,258.61 L253.75,258.55 L254.03,258.56 L254.31,258.61 L254.58,258.58 L254.86,258.58 L255.14,258.61 L255.42,258.67 L255.69,258.68 L255.97,258.78 L256.25,258.76 L256.53,258.76 L256.81,258.70 L257.08,258.70 L257.36,258.67 L257.64,258.50 L257.92,258.50 L258.19,258.54 L258.47,258.62 L258.75,258.58 L259.03,258.61 L259.31,258.70 L259.58,258.74 L259.86,258.77 L260.14,258.76 L260.42,258.84 L260.69,258.85 L260.97,258.91 L261.25,258.94 L261.53,258.97 L261.81,258.96 L262.08,258.96 L262.36,258.94 L262.64,258.84 L262.92,258.77 L263.19,258.68 L263.47,258.63 L263.75,258.60 L264.03,258.52 L264.31,258.44 L264.58,258.44 L264.86,258.39 L265.14,258.27 L265.42,258.16 L265.69,258.14 L265.97,258.05 L266.25,257.93 L266.53,257.87 L266.81,257.91 L267.08,257.90 L267.36,257.88 L267.64,257.97 L267.92,257.99 L268.19,257.97 L268.47,257.94 L268.75,257.94 L269.03,257.90 L269.31,257.92 L269.58,257.92 L269.86,257.97 L270.14,258.05 L270.42,258.11 L270.69,258.15 L270.97,258.15 L271.25,258.23 L271.53,258.27 L271.81,258.32 L272.08,258.27 L272.36,258.39 L272.64,258.48 L272.92,258.52 L273.19,258.62 L273.47,258.61 L273.75,258.77 L274.03,258.81 L274.31,258.89 L274.58,258.96 L274.86,259.04 L275.14,259.19 L275.42,259.20 L275.69,259.31 L275.97,259.37 L276.25,259.46 L276.53,259.49 L276.81,259.59 L277.08,259.71 L277.36,259.81 L277.64,259.84 L277.92,259.85 L278.19,259.91 L278.47,259.87 L278.75,259.96 L279.03,259.94 L279.31,260.02 L279.58,260.06 L279.86,260.07 L280.14,260.10 L280.42,260.06 L280.69,260.09 L280.97,260.07 L281.25,260.07 L281.53,260.06 L281.81,260.07 L282.08,260.09 L282.36,260.09 L282.64,260.11 L282.92,260.13 L283.19,260.18 L283.47,260.21 L283.75,260.21 L284.03,260.22 L284.31,260.23 L284.58,260.29 L284.86,260.30 L285.14,260.31 L285.42,260.35 L285.69,260.39 L285.97,260.47 L286.25,260.49 L286.53,260.56 L286.81,260.56 L287.08,260.63 L287.36,260.75 L287.64,260.77 L287.92,260.80 L288.19,260.87 L288.47,261.03 L288.75,261.12 L289.03,261.13 L289.31,261.24 L289.58,261.39 L289.86,261.49 L290.14,261.60 L290.42,261.66 L290.69,261.73 L290.97,261.77 L291.25,261.74 L291.53,261.69 L291.81,261.60 L292.08,261.56 L292.36,261.48 L292.64,261.40 L292.92,261.35 L293.19,261.34 L293.47,261.28 L293.75,261.22 L294.03,261.21 L294.31,261.20 L294.58,261.11 L294.86,261.10 L295.14,261.10 L295.42,261.05 L295.69,261.03 L295.97,261.00 L296.25,261.01 L296.53,260.95 L296.81,260.92 L297.08,260.92 L297.36,260.92 L297.64,260.90 L297.92,260.91 L298.19,260.88 L298.47,260.83 L298.75,260.80 L299.03,260.81 L299.31,260.81 L299.58,260.77 L299.86,260.80 L300.14,260.80 L300.42,260.71 L300.69,260.67 L300.97,260.61 L301.25,260.65 L301.53,260.60 L301.81,260.56 L302.08,260.66 L302.36,260.60 L302.64,260.63 L302.92,260.61 L303.19,260.66 L303.47,260.72 L303.75,260.70 L304.03,260.72 L304.31,260.79 L304.58,260.76 L304.86,260.79 L305.14,260.76 L305.42,260.79 L305.69,260.85 L305.97,260.76 L306.25,260.79 L306.53,260.76 L306.81,260.79 L307.08,260.75 L307.36,260.73 L307.64,260.75 L307.92,260.70 L308.19,260.71 L308.47,260.67 L308.75,260.72 L309.03,260.73 L309.31,260.71 L309.58,260.74 L309.86,260.70 L310.14,260.69 L310.42,260.67 L310.69,260.63 L310.97,260.71 L311.25,260.74 L311.53,260.72 L311.81,260.75 L312.08,260.73 L312.36,260.69 L312.64,260.67 L312.92,260.68 L313.19,260.73 L313.47,260.72 L313.75,260.76 L314.03,260.80 L314.31,260.80 L314.58,260.82 L314.86,260.80 L315.14,260.79 L315.42,260.77 L315.69,260.82 L315.97,260.87 L316.25,260.82 L316.53,260.86 L316.81,260.96 L317.08,261.03 L317.36,261.10 L317.64,261.09 L317.92,261.17 L318.19,261.27 L318.47,261.37 L318.75,261.50 L319.03,261.65 L319.31,261.84 L319.58,262.03 L319.86,262.14 L320.14,262.22 L320.42,262.27 L320.69,262.31 L320.97,262.32 L321.25,262.27 L321.53,262.23 L321.81,262.16 L322.08,262.10 L322.36,261.98 L322.64,261.83 L322.92,261.66 L323.19,261.57 L323.47,261.51 L323.75,261.34 L324.03,261.23 L324.31,261.18 L324.58,261.15 L324.86,261.03 L325.14,260.92 L325.42,260.94 L325.69,260.91 L325.97,260.88 L326.25,260.88 L326.53,260.87 L326.81,260.93 L327.08,260.90 L327.36,260.89 L327.64,260.90 L327.92,260.91 L328.19,260.91 L328.47,260.91 L328.75,260.96 L329.03,260.97 L329.31,260.90 L329.58,260.90 L329.86,260.90 L330.14,260.87 L330.42,260.83 L330.69,260.76 L330.97,260.84 L331.25,260.83 L331.53,260.78 L331.81,260.76 L332.08,260.74 L332.36,260.83 L332.64,260.83 L332.92,260.88 L333.19,260.95 L333.47,260.94 L333.75,260.93 L334.03,260.97 L334.31,261.03 L334.58,261.02 L334.86,261.07 L335.14,261.12 L335.42,261.16 L335.69,261.16 L335.97,261.16 L336.25,261.22 L336.53,261.26 L336.81,261.36 L337.08,261.51 L337.36,261.68 L337.64,261.79 L337.92,261.98 L338.19,262.09 L338.47,262.21 L338.75,262.33 L339.03,262.40 L339.31,262.56 L339.58,262.60 L339.86,262.76 L340.14,262.88 L340.42,263.02 L340.69,263.07 L340.97,263.07 L341.25,263.11 L341.53,262.99 L341.81,262.98 L342.08,262.88 L342.36,262.85 L342.64,262.75 L342.92,262.63 L343.19,262.65 L343.47,262.59 L343.75,262.55 L344.03,262.44 L344.31,262.38 L344.58,262.35 L344.86,262.21 L345.14,262.10 L345.42,262.03 L345.69,262.06 L345.97,262.05 L346.25,262.06 L346.53,262.09 L346.81,262.07 L347.08,261.99 L347.36,261.90 L347.64,261.85 L347.92,261.75 L348.19,261.68 L348.47,261.65 L348.75,261.62 L349.03,261.53 L349.31,261.50 L349.58,261.45 L349.86,261.38 L350.14,261.35 L350.42,261.37 L350.69,261.46 L350.97,261.49 L351.25,261.46 L351.53,261.53 L351.81,261.52 L352.08,261.39 L352.36,261.32 L352.64,261.27 L352.92,261.28 L353.19,261.23 L353.47,261.17 L353.75,261.26 L354.03,261.20 L354.31,261.15 L354.58,261.12 L354.86,261.10 L355.14,261.02 L355.42,260.99 L355.69,260.99 L355.97,260.99 L356.25,260.97 L356.53,260.93 L356.81,260.95 L357.08,260.89 L357.36,260.87 L357.64,260.86 L357.92,260.85 L358.19,260.83 L358.47,260.87 L358.75,260.81 L359.03,260.75 L359.31,260.70 L359.58,260.66 L359.86,260.59 L360.14,260.50 L360.42,260.50 L360.69,260.55 L360.97,260.50 L361.25,260.52 L361.53,260.56 L361.81,260.54 L362.08,260.54 L362.36,260.50 L362.64,260.43 L362.92,260.38 L363.19,260.34 L363.47,260.37 L363.75,260.33 L364.03,260.33 L364.31,260.30 L364.58,260.29 L364.86,260.29 L365.14,260.20 L365.42,260.20 L365.69,260.13 L365.97,260.20 L366.25,260.15 L366.53,260.06 L366.81,260.04 L367.08,260.09 L367.36,260.07 L367.64,260.05 L367.92,260.01 L368.19,260.05 L368.47,260.03 L368.75,259.94 L369.03,259.94 L369.31,259.88 L369.58,259.86 L369.86,259.85 L370.14,259.81 L370.42,259.76 L370.69,259.72 L370.97,259.70 L371.25,259.66 L371.53,259.60 L371.81,259.57 L372.08,259.57 L372.36,259.52 L372.64,259.54 L372.92,259.58 L373.19,259.57 L373.47,259.56 L373.75,259.54 L374.03,259.53 L374.31,259.51 L374.58,259.43 L374.86,259.39 L375.14,259.32 L375.42,259.29 L375.69,259.25 L375.97,259.22 L376.25,259.14 L376.53,259.11 L376.81,259.07 L377.08,259.00 L377.36,259.01 L377.64,258.95 L377.92,259.02 L378.19,258.97 L378.47,259.01 L378.75,259.01 L379.03,258.92 L379.31,258.86 L379.58,258.74 L379.86,258.71 L380.14,258.65 L380.42,258.60 L380.69,258.57 L380.97,258.56 L381.25,258.58 L381.53,258.59 L381.81,258.56 L382.08,258.58 L382.36,258.56 L382.64,258.54 L382.92,258.46 L383.19,258.40 L383.47,258.41 L383.75,258.37 L384.03,258.32 L384.31,258.33 L384.58,258.33 L384.86,258.31 L385.14,258.19 L385.42,258.19 L385.69,258.16 L385.97,258.07 L386.25,258.07 L386.53,258.07 L386.81,258.09 L387.08,258.03 L387.36,258.06 L387.64,258.11 L387.92,258.04 L388.19,258.01 L388.47,258.03 L388.75,258.02 L389.03,257.91 L389.31,257.75 L389.58,257.65 L389.86,257.49 L390.14,257.28 L390.42,257.11 L390.69,256.96 L390.97,256.84 L391.25,256.68 L391.53,256.43 L391.81,256.16 L392.08,255.81 L392.36,255.51 L392.64,255.23 L392.92,255.05 L393.19,254.99 L393.47,255.00 L393.75,255.02 L394.03,255.13 L394.31,255.18 L394.58,255.24 L394.86,255.34 L395.14,255.38 L395.42,255.47 L395.69,255.45 L395.97,255.46 L396.25,255.47 L396.53,255.50 L396.81,255.51 L397.08,255.52 L397.36,255.53 L397.64,255.61 L397.92,255.64 L398.19,255.71 L398.47,255.82 L398.75,255.81 L399.03,255.91 L399.31,255.92 L399.58,255.95 L399.86,255.89 L400.14,255.90 L400.42,256.01 L400.69,255.96 L400.97,255.95 L401.25,255.94 L401.53,256.02 L401.81,256.06 L402.08,256.00 L402.36,256.02 L402.64,256.03 L402.92,256.03 L403.19,255.99 L403.47,255.92 L403.75,255.91 L404.03,255.85 L404.31,255.83 L404.58,255.79 L404.86,255.72 L405.14,255.68 L405.42,255.60 L405.69,255.56 L405.97,255.50 L406.25,255.47 L406.53,255.41 L406.81,255.33 L407.08,255.38 L407.36,255.39 L407.64,255.39 L407.92,255.40 L408.19,255.41 L408.47,255.40 L408.75,255.32 L409.03,255.18 L409.31,255.07 L409.58,254.98 L409.86,254.91 L410.14,254.81 L410.42,254.74 L410.69,254.75 L410.97,254.70 L411.25,254.57 L411.53,254.43 L411.81,254.34 L412.08,254.19 L412.36,254.00 L412.64,253.84 L412.92,253.69 L413.19,253.54 L413.47,253.29 L413.75,253.12 L414.03,252.98 L414.31,252.74 L414.58,252.46 L414.86,252.22 L415.14,251.99 L415.42,251.62 L415.69,251.28 L415.97,250.89 L416.25,250.57 L416.53,250.10 L416.81,249.74 L417.08,249.29 L417.36,248.82 L417.64,248.33 L417.92,247.83 L418.19,247.31 L418.47,246.77 L418.75,246.22 L419.03,245.60 L419.31,244.91 L419.58,244.16 L419.86,243.37 L420.14,242.54 L420.42,241.69 L420.69,240.81 L420.97,239.92 L421.25,239.04 L421.53,238.16 L421.81,237.30 L422.08,236.41 L422.36,235.45 L422.64,234.47 L422.92,233.51 L423.19,232.62 L423.47,231.84 L423.75,231.17 L424.03,230.48 L424.31,229.93 L424.58,229.70 L424.86,229.95 L425.14,230.56 L425.42,231.32 L425.69,232.00 L425.97,232.68 L426.25,233.44 L426.53,234.05 L426.81,234.30 L427.08,234.27 L427.36,234.18 L427.64,234.06 L427.92,233.93 L428.19,233.78 L428.47,233.65 L428.75,233.55 L429.03,233.43 L429.31,233.31 L429.58,233.19 L429.86,233.09 L430.14,233.03 L430.42,233.00 L430.69,233.12 L430.97,233.44 L431.25,233.89 L431.53,234.42 L431.81,234.95 L432.08,235.45 L432.36,236.02 L432.64,236.64 L432.92,237.29 L433.19,237.92 L433.47,238.52 L433.75,239.07 L434.03,239.60 L434.31,240.13 L434.58,240.66 L434.86,241.19 L435.14,241.71 L435.42,242.21 L435.69,242.70 L435.97,243.18 L436.25,243.64 L436.53,244.08 L436.81,244.49 L437.08,244.87 L437.36,245.23 L437.64,245.55 L437.92,245.84 L438.19,246.13 L438.47,246.41 L438.75,246.68 L439.03,246.95 L439.31,247.21 L439.58,247.46 L439.86,247.70 L440.14,247.94 L440.42,248.16 L440.69,248.37 L440.97,248.57 L441.25,248.76 L441.53,248.93 L441.81,249.09 L442.08,249.23 L442.36,249.36 L442.64,249.47 L442.92,249.56 L443.19,249.64 L443.47,249.71 L443.75,249.78 L444.03,249.85 L444.31,249.91 L444.58,249.98 L444.86,250.04 L445.14,250.09 L445.42,250.14 L445.69,250.18 L445.97,250.22 L446.25,250.25 L446.53,250.27 L446.81,250.29 L447.08,250.30 L447.36,250.30 L447.64,250.30 L447.92,250.30 L448.19,250.30 L448.47,250.30 L448.75,250.30 L449.03,250.30 L449.31,250.30 L449.58,250.30 L449.86,250.30 L450.14,250.30 L450.42,250.30 L450.69,250.29 L450.97,250.23 L451.25,250.13 L451.53,250.00 L451.81,249.84 L452.08,249.68 L452.36,249.50 L452.64,249.24 L452.92,248.94 L453.19,248.70 L453.47,248.60 L453.75,248.73 L454.03,249.06 L454.31,249.46 L454.58,249.85 L454.86,250.13 L455.14,250.41 L455.42,250.67 L455.69,250.85 L455.97,250.93 L456.25,251.00 L456.53,251.06 L456.81,251.12 L457.08,251.17 L457.36,251.22 L457.64,251.26 L457.92,251.29 L458.19,251.32 L458.47,251.35 L458.75,251.37 L459.03,251.38 L459.31,251.39 L459.58,251.40 L459.86,251.40 L460.14,251.40 L460.42,251.40 L460.69,251.40 L460.97,251.40 L461.25,251.40 L461.53,251.40 L461.81,251.40 L462.08,251.40 L462.36,251.40 L462.64,251.40 L462.92,251.40 L463.19,251.40 L463.47,251.40 L463.75,251.37 L464.03,251.30 L464.31,251.18 L464.58,251.03 L464.86,250.85 L465.14,250.65 L465.42,250.43 L465.69,250.20 L465.97,249.91 L466.25,249.53 L466.53,249.08 L466.81,248.56 L467.08,247.99 L467.36,247.40 L467.64,246.80 L467.92,246.16 L468.19,245.45 L468.47,244.68 L468.75,243.86 L469.03,243.01 L469.31,242.13 L469.58,241.24 L469.86,240.35 L470.14,239.47 L470.42,238.62 L470.69,237.77 L470.97,236.84 L471.25,235.85 L471.53,234.86 L471.81,233.92 L472.08,233.10 L472.36,232.44 L472.64,232.00 L472.92,231.70 L473.19,231.43 L473.47,231.20 L473.75,231.05 L474.03,231.00 L474.31,231.04 L474.58,231.16 L474.86,231.33 L475.14,231.55 L475.42,231.80 L475.69,232.07 L475.97,232.34 L476.25,232.60 L476.53,232.87 L476.81,233.16 L477.08,233.48 L477.36,233.82 L477.64,234.17 L477.92,234.54 L478.19,234.91 L478.47,235.31 L478.75,235.83 L479.03,236.40 L479.31,236.95 L479.58,237.40 L479.86,237.66 L480.14,237.64 L480.42,237.19 L480.69,236.43 L480.97,235.50 L481.25,234.55 L481.53,233.69 L481.81,232.89 L482.08,231.97 L482.36,230.77 L482.64,228.92 L482.92,225.54 L483.19,221.01 L483.47,215.87 L483.75,209.45 L484.03,200.00 L484.31,180.00 L484.58,135.37 L484.86,89.42 L485.14,73.93 L485.42,65.00 L485.69,58.70 L485.97,54.12 L486.25,49.99 L486.53,45.00 L486.81,38.86 L487.08,28.50 L487.36,14.24 L487.64,17.63 L487.92,29.91 L488.19,38.52 L488.47,45.00 L488.75,50.56 L489.03,58.05 L489.31,95.00 L489.58,144.04 L489.86,157.42 L490.14,172.27 L490.42,188.83 L490.69,205.00 L490.97,213.73 L491.25,220.00 L491.53,225.29 L491.81,229.00 L492.08,231.16 L492.36,232.85 L492.64,234.22 L492.92,235.42 L493.19,236.60 L493.47,237.86 L493.75,239.12 L494.03,240.26 L494.31,241.16 L494.58,241.70 L494.86,241.99 L495.14,242.21 L495.42,242.40 L495.69,242.55 L495.97,242.68 L496.25,242.80 L496.53,242.91 L496.81,242.99 L497.08,243.06 L497.36,243.14 L497.64,243.24 L497.92,243.37 L498.19,243.57 L498.47,243.82 L498.75,244.11 L499.03,244.42 L499.31,244.74 L499.58,245.05 L499.86,245.34 L500.14,245.59 L500.42,245.80 L500.69,246.02 L500.97,246.25 L501.25,246.46 L501.53,246.66 L501.81,246.84 L502.08,246.98 L502.36,247.07 L502.64,247.10 L502.92,247.09 L503.19,247.06 L503.47,247.01 L503.75,246.95 L504.03,246.87 L504.31,246.79 L504.58,246.70 L504.86,246.56 L505.14,246.35 L505.42,246.08 L505.69,245.76 L505.97,245.42 L506.25,245.07 L506.53,244.74 L506.81,244.44 L507.08,244.19 L507.36,244.00 L507.64,243.87 L507.92,243.76 L508.19,243.67 L508.47,243.58 L508.75,243.51 L509.03,243.43 L509.31,243.35 L509.58,243.25 L509.86,243.14 L510.14,243.00 L510.42,242.81 L510.69,242.57 L510.97,242.28 L511.25,241.96 L511.53,241.62 L511.81,241.28 L512.08,240.96 L512.36,240.65 L512.64,240.34 L512.92,240.04 L513.19,239.73 L513.47,239.43 L513.75,239.12 L514.03,238.81 L514.31,238.49 L514.58,238.17 L514.86,237.85 L515.14,237.53 L515.42,237.20 L515.69,236.87 L515.97,236.53 L516.25,236.19 L516.53,235.85 L516.81,235.50 L517.08,235.15 L517.36,234.80 L517.64,234.43 L517.92,234.06 L518.19,233.68 L518.47,233.30 L518.75,232.90 L519.03,232.49 L519.31,232.07 L519.58,231.64 L519.86,231.21 L520.14,230.76 L520.42,230.31 L520.69,229.86 L520.97,229.40 L521.25,228.93 L521.53,228.47 L521.81,228.00 L522.08,227.53 L522.36,227.07 L522.64,226.59 L522.92,226.12 L523.19,225.63 L523.47,225.14 L523.75,224.65 L524.03,224.15 L524.31,223.65 L524.58,223.14 L524.86,222.64 L525.14,222.13 L525.42,221.62 L525.69,221.11 L525.97,220.59 L526.25,220.08 L526.53,219.57 L526.81,219.07 L527.08,218.56 L527.36,218.06 L527.64,217.55 L527.92,217.06 L528.19,216.56 L528.47,216.08 L528.75,215.59 L529.03,215.12 L529.31,214.65 L529.58,214.18 L529.86,213.73 L530.14,213.28 L530.42,212.83 L530.69,212.40 L530.97,211.97 L531.25,211.54 L531.53,211.12 L531.81,210.70 L532.08,210.29 L532.36,209.88 L532.64,209.47 L532.92,209.07 L533.19,208.67 L533.47,208.27 L533.75,207.87 L534.03,207.48 L534.31,207.08 L534.58,206.69 L534.86,206.30 L535.14,205.90 L535.42,205.51 L535.69,205.12 L535.97,204.72 L536.25,204.32 L536.53,203.93 L536.81,203.53 L537.08,203.13 L537.36,202.72 L537.64,202.31 L537.92,201.90 L538.19,201.49 L538.47,201.07 L538.75,200.64 L539.03,200.22 L539.31,199.78 L539.58,199.34 L539.86,198.89 L540.14,198.43 L540.42,197.98 L540.69,197.52 L540.97,197.08 L541.25,196.63 L541.53,196.19 L541.81,195.75 L542.08,195.30 L542.36,194.86 L542.64,194.42 L542.92,193.98 L543.19,193.54 L543.47,193.10 L543.75,192.67 L544.03,192.23 L544.31,191.80 L544.58,191.36 L544.86,190.93 L545.14,190.50" stroke="#1a1a1a" stroke-width="1.45"/>
</g>
<g font-family="'Liberation Sans', Arial, sans-serif" font-weight="bold" fill="#0a0a0a" stroke="#0a0a0a" stroke-width="0.22" stroke-linejoin="round">
<text transform="translate(30.70,264.15) scale(0.972,1)" font-size="10.8" text-anchor="end">0.0</text>
<text transform="translate(30.70,226.03) scale(0.972,1)" font-size="10.8" text-anchor="end">0.1</text>
<text transform="translate(30.70,187.91) scale(0.972,1)" font-size="10.8" text-anchor="end">0.2</text>
<text transform="translate(30.70,149.79) scale(0.972,1)" font-size="10.8" text-anchor="end">0.3</text>
<text transform="translate(30.70,111.67) scale(0.972,1)" font-size="10.8" text-anchor="end">0.4</text>
<text transform="translate(30.70,73.55) scale(0.972,1)" font-size="10.8" text-anchor="end">0.5</text>
<text transform="translate(30.70,35.43) scale(0.972,1)" font-size="10.8" text-anchor="end">0.6</text>
<text transform="translate(38.30,281.30) scale(0.972,1)" font-size="10.8" text-anchor="middle">4000</text>
<text transform="translate(90.72,281.30) scale(0.972,1)" font-size="10.8" text-anchor="middle">3500</text>
<text transform="translate(143.13,281.30) scale(0.972,1)" font-size="10.8" text-anchor="middle">3000</text>
<text transform="translate(195.55,281.30) scale(0.972,1)" font-size="10.8" text-anchor="middle">2500</text>
<text transform="translate(247.96,281.30) scale(0.972,1)" font-size="10.8" text-anchor="middle">2000</text>
<text transform="translate(300.38,281.30) scale(0.972,1)" font-size="10.8" text-anchor="middle">1500</text>
<text transform="translate(352.79,281.30) scale(0.972,1)" font-size="10.8" text-anchor="middle">1000</text>
<text transform="translate(276.90,171.80) scale(1.0,1)" font-size="10.5" text-anchor="start">1633</text>
<text transform="translate(306.20,147.00) scale(1.0,1)" font-size="10.5" text-anchor="start">1319</text>
<text transform="translate(10.30,62.90) rotate(-90) scale(0.98,1)" font-size="10.8" text-anchor="start">Absorbance</text>
<text transform="translate(294.90,293.90) scale(0.966,1)" font-size="10.8" text-anchor="start">Wavenumber(cm<tspan font-size="5.2" dy="-4.9" dx="0.4">-1</tspan><tspan dy="4.9" dx="1.0">)</tspan></text>
</g>
<rect x="49.8" y="15.9" width="142.5" height="28.5" fill="#8a8a8a" opacity="0.85"/>
<rect x="48.7" y="14.45" width="142.4" height="28.75" fill="#fff" stroke="#929292" stroke-width="1.05"/>
<path d="M58.9,23.1 H83.8" stroke="#f5121e" stroke-width="1.3"/>
<path d="M58.9,36.8 H83.8" stroke="#1a1a1a" stroke-width="1.45"/>
<g font-family="'Liberation Sans', Arial, sans-serif" font-weight="bold" fill="#0a0a0a" stroke="#0a0a0a" stroke-width="0.22" stroke-linejoin="round">
<text transform="translate(86.30,26.80) scale(0.972,1)" font-size="10.8" text-anchor="start">Fipronil technical</text>
<text transform="translate(86.30,40.50) scale(0.983,1)" font-size="10.8" text-anchor="start">Matrine formulation</text>
</g>
</svg>
</body></html>
